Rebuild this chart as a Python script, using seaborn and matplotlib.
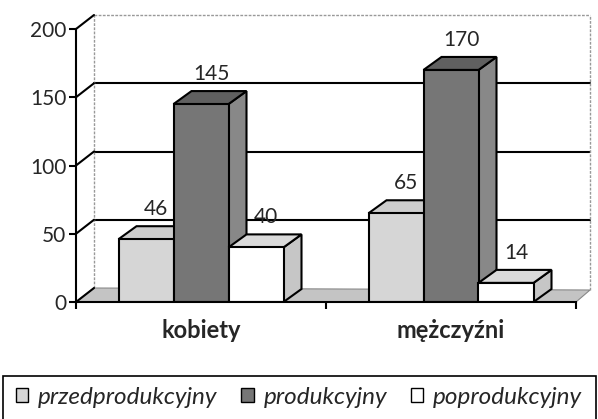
import matplotlib
matplotlib.use("Agg")
import matplotlib.pyplot as plt
import numpy as np
import pandas as pd
import seaborn as sns
from matplotlib.patches import Polygon, Rectangle
from matplotlib.lines import Line2D
from matplotlib.transforms import IdentityTransform

categories = ["kobiety", "mężczyźni"]
groups = ["przedprodukcyjny", "produkcyjny", "poprodukcyjny"]
przed = [46, 65]
prod = [145, 170]
popr = [40, 14]
y_ticks = [0, 50, 100, 150, 200]

front_colors = ["#d6d6d6", "#767676", "#ffffff"]
top_colors = ["#cdcdcd", "#606060", "#dadada"]
side_colors = ["#bcbcbc", "#888888", "#c6c6c6"]

df = pd.DataFrame({
    "plec": categories * 3,
    "grupa": np.repeat(groups, 2),
    "liczba": przed + prod + popr,
})

sns.set_style("white")
plt.rcParams["font.family"] = ["Lato", "DejaVu Sans"]

W, H = 598, 419
fig = plt.figure(figsize=(W / 100, H / 100), dpi=100)
ax = fig.add_axes([76 / W, (H - 302) / H, 500 / W, 273 / H])
sns.barplot(data=df, x="plec", y="liczba", hue="grupa", hue_order=groups,
            palette=front_colors, saturation=1, width=0.66, edgecolor="black",
            linewidth=1.5, legend=False, ax=ax)
ax.set_xlim(-0.5, 1.5)
ax.set_ylim(0, 200)
ax.set_xlabel("")
ax.set_ylabel("")
ax.patch.set_alpha(0)
for s in ["top", "right"]:
    ax.spines[s].set_visible(False)
for s in ["left", "bottom"]:
    ax.spines[s].set_linewidth(1.5)
    ax.spines[s].set_color("black")
    ax.spines[s].set_zorder(20)

ax.set_yticks(y_ticks)
ax.tick_params(axis="y", length=5, width=1.5, color="black", labelsize=15, pad=2, left=True)
ax.set_xticks([0, 1])
ax.set_xticklabels(categories, fontweight="bold", fontsize=17)
ax.tick_params(axis="x", length=0, pad=12)
ax.set_xticks([-0.5, 0.5, 1.5], minor=True)
ax.tick_params(axis="x", which="minor", length=5, width=1.5, color="black", bottom=True)

# 3D depth (pixels)
DX, DY = 18, 14
BDX, BDY = 18, 13
idt = IdentityTransform()
to_px = ax.transData.transform

# floor
p0 = to_px((-0.5, 0))
p1 = to_px((1.5, 0))
ax.add_patch(Polygon([p0, p1, (p1[0] + DX - 4, p1[1] + DY - 2), (p0[0] + DX, p0[1] + DY)],
                     closed=True, transform=idt, facecolor="#c4c4c4", edgecolor="#888888",
                     linewidth=0.8, zorder=1.5, clip_on=False))

# back wall: gridlines, top and side edges
for t in y_ticks:
    a = to_px((-0.5, t))
    b = to_px((1.5, t))
    ax.add_line(Line2D([a[0], a[0] + DX], [a[1], a[1] + DY], transform=idt,
                       color="black", linewidth=1.5, zorder=21, clip_on=False))
    if t in (50, 100, 150):
        ax.add_line(Line2D([a[0] + DX, b[0] + DX - 4], [a[1] + DY, b[1] + DY], transform=idt,
                           color="black", linewidth=1.5, zorder=1, clip_on=False))
a = to_px((-0.5, 200))
b = to_px((1.5, 200))
ax.add_line(Line2D([a[0] + DX, b[0] + DX - 4], [a[1] + DY, b[1] + DY], transform=idt,
                   color="#999999", linewidth=1, linestyle=(0, (2, 1)), zorder=1, clip_on=False))
ax.add_line(Line2D([a[0] + DX, a[0] + DX], [p0[1] + DY, a[1] + DY], transform=idt,
                   color="#999999", linewidth=1, linestyle=(0, (2, 1)), zorder=1, clip_on=False))
ax.add_line(Line2D([b[0] + DX - 4, b[0] + DX - 4], [p1[1] + DY - 2, b[1] + DY], transform=idt,
                   color="#999999", linewidth=1, linestyle=(0, (2, 1)), zorder=1, clip_on=False))

# bar faces
bars = []
for gi, g in enumerate(groups):
    for ci in range(len(categories)):
        bars.append((ax.patches[gi * len(categories) + ci], gi))
bars.sort(key=lambda b: b[0].get_x())
for k, (patch, gi) in enumerate(bars):
    z = 3 + k * 0.1
    patch.set_zorder(z + 0.05)
    x, w, h = patch.get_x(), patch.get_width(), patch.get_height()
    x0, y0 = to_px((x, 0))
    x1, y1 = to_px((x + w, h))
    top = [(x0, y1), (x1, y1), (x1 + BDX, y1 + BDY), (x0 + BDX, y1 + BDY)]
    side = [(x1, y0), (x1 + BDX, y0 + BDY), (x1 + BDX, y1 + BDY), (x1, y1)]
    ax.add_patch(Polygon(side, closed=True, transform=idt, facecolor=side_colors[gi],
                         edgecolor="black", linewidth=1.5, zorder=z, clip_on=False))
    ax.add_patch(Polygon(top, closed=True, transform=idt, facecolor=top_colors[gi],
                         edgecolor="black", linewidth=1.5, zorder=z, clip_on=False))
    ax.annotate(f"{int(h)}", xy=(x + w / 2, h), xytext=(10, 30), textcoords="offset pixels",
                ha="center", va="center", fontsize=15, zorder=30)

# legend with full-width frame
fig.patches.append(Rectangle((3 / W, -0.02), 593 / W, (H - 376) / H + 0.02,
                             transform=fig.transFigure, fill=False, edgecolor="black",
                             linewidth=1.2))
handles = [Rectangle((0, 0), 1, 1, facecolor=c, edgecolor="black", linewidth=1)
           for c in front_colors]
fig.legend(handles, groups, loc="center", bbox_to_anchor=(0.5, (H - 397) / H), ncol=3,
           frameon=False, prop={"style": "italic", "size": 17.5}, handlelength=0.5,
           handleheight=0.5, handletextpad=0.4, columnspacing=1.0, borderpad=0)

fig.savefig("out.png", dpi=100)
